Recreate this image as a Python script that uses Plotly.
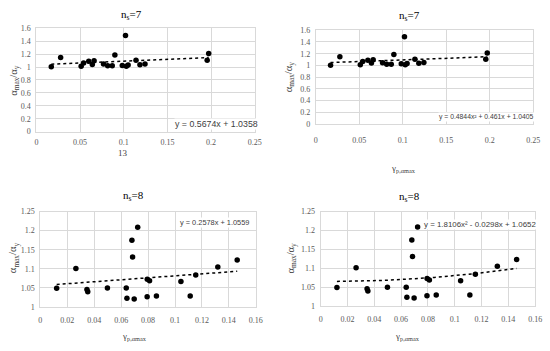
import numpy as np
import plotly.graph_objects as go

# ---------------- data ----------------
x7 = [0.0170, 0.0277, 0.0512, 0.0540, 0.0599, 0.0640, 0.0660, 0.0768, 0.0816, 0.0868,
      0.0898, 0.0983, 0.1020, 0.1029, 0.1050, 0.1140, 0.1185, 0.1243, 0.1955, 0.1972]
y7 = [1.004, 1.147, 1.012, 1.065, 1.090, 1.041, 1.097, 1.046, 1.020, 1.020,
      1.187, 1.026, 1.489, 1.012, 1.033, 1.105, 1.038, 1.049, 1.107, 1.210]

x8 = [0.0121, 0.0264, 0.0346, 0.0352, 0.0498, 0.0638, 0.0643, 0.0680, 0.0685, 0.0697,
      0.0723, 0.0794, 0.0811, 0.0793, 0.0862, 0.1044, 0.1113, 0.1154, 0.1318, 0.1462]
y8 = [1.049, 1.101, 1.046, 1.040, 1.050, 1.050, 1.023, 1.175, 1.131, 1.021,
      1.209, 1.073, 1.069, 1.027, 1.029, 1.067, 1.029, 1.084, 1.105, 1.123]

# trendline coefficients (highest power first), as printed on the chart
coef_tl = [0.5674, 1.0358]
coef_tr = [0.4844, 0.461, 1.0405]
coef_bl = [0.2578, 1.0559]
coef_br = [1.8106, -0.0298, 1.0652]

eq_tl = "y = 0.5674x + 1.0358"
eq_tr = "y = 0.4844x² + 0.461x + 1.0405"
eq_bl = "y = 0.2578x + 1.0559"
eq_br = "y = 1.8106x² - 0.0298x + 1.0652"

titles = ["n<sub>s</sub>=7", "n<sub>s</sub>=7", "n<sub>s</sub>=8", "n<sub>s</sub>=8"]
ytitle = "α<sub>max</sub>/α<sub>y</sub>"
xtitles = ["13", "γ<sub>p,αmax</sub>", "γ<sub>p,αmax</sub>", "γ<sub>p,αmax</sub>"]

xt7 = [0, 0.05, 0.1, 0.15, 0.2, 0.25]
xt7_lbl = ["0", "0.05", "0.1", "0.15", "0.2", "0.25"]
yt7 = [0, 0.2, 0.4, 0.6, 0.8, 1.0, 1.2, 1.4, 1.6]
yt7_lbl = ["0", "0.2", "0.4", "0.6", "0.8", "1", "1.2", "1.4", "1.6"]
xt8 = [0, 0.02, 0.04, 0.06, 0.08, 0.10, 0.12, 0.14, 0.16]
xt8_lbl = ["0", "0.02", "0.04", "0.06", "0.08", "0.1", "0.12", "0.14", "0.16"]
yt8 = [1.0, 1.05, 1.1, 1.15, 1.2, 1.25]
yt8_lbl = ["1", "1.05", "1.1", "1.15", "1.2", "1.25"]

# ---------------- layout helpers ----------------
W, H = 550, 351
def PX(x): return x / W
def PY(y): return 1 - y / H

SERIF = "Liberation Serif"
SANS = "Liberation Sans"
GRID = "#d9d9d9"

panels = [
    dict(x=x7, y=y7, c=coef_tl, eq=eq_tl, eqsize=8.8, box=(35, 257, 25, 131),
         xt=(xt7, xt7_lbl), yt=(yt7, yt7_lbl), xr=[0, 0.25], yr=[0, 1.6],
         eqpos=(175, 123), title=(132, 11), ytl=(12, 78), xtl=(123, 153), xstand=3),
    dict(x=x7, y=y7, c=coef_tr, eq=eq_tr, eqsize=6.8, box=(319, 540, 27, 123),
         xt=(xt7, xt7_lbl), yt=(yt7, yt7_lbl), xr=[0, 0.25], yr=[0, 1.6],
         eqpos=(443, 116), title=(414, 12), ytl=(292, 75), xtl=(408, 169), xstand=9),
    dict(x=x8, y=y8, c=coef_bl, eq=eq_bl, eqsize=7.4, box=(39, 258, 213, 311),
         xt=(xt8, xt8_lbl), yt=(yt8, yt8_lbl), xr=[0, 0.16], yr=[1, 1.25],
         eqpos=(180, 224), title=(134, 197), ytl=(12, 260), xtl=(135, 341), xstand=5),
    dict(x=x8, y=y8, c=coef_br, eq=eq_br, eqsize=7.9, box=(324, 542, 213, 310),
         xt=(xt8, xt8_lbl), yt=(yt8, yt8_lbl), xr=[0, 0.16], yr=[1, 1.25],
         eqpos=(428, 226), title=(414, 198), ytl=(294, 261), xtl=(412, 341), xstand=5),
]

fig = go.Figure()
annotations = []
for i, p in enumerate(panels, start=1):
    xa = "x" if i == 1 else f"x{i}"
    ya = "y" if i == 1 else f"y{i}"
    fig.add_trace(go.Scatter(x=p["x"], y=p["y"], mode="markers", xaxis=xa, yaxis=ya,
                             marker=dict(color="black", size=5.5), showlegend=False,
                             hoverinfo="skip"))
    xs = np.linspace(min(p["x"]), max(p["x"]), 60)
    fig.add_trace(go.Scatter(x=xs, y=np.polyval(p["c"], xs), mode="lines", xaxis=xa, yaxis=ya,
                             line=dict(color="black", width=1.5, dash="dot"), showlegend=False,
                             hoverinfo="skip"))
    x0, x1, y0, y1 = p["box"]
    axcommon = dict(showgrid=True, gridcolor=GRID, gridwidth=1, zeroline=False,
                    showline=True, linecolor=GRID, linewidth=1, mirror=True, ticks="",
                    tickfont=dict(family=SERIF, size=8, color="#595959"))
    fig.layout[("xaxis" if i == 1 else f"xaxis{i}")] = dict(
        domain=[PX(x0), PX(x1)], anchor=ya, range=p["xr"], tickmode="array",
        tickvals=p["xt"][0], ticktext=p["xt"][1], ticklabelstandoff=p["xstand"], **axcommon)
    fig.layout[("yaxis" if i == 1 else f"yaxis{i}")] = dict(
        domain=[PY(y1), PY(y0)], anchor=xa, range=p["yr"], tickmode="array",
        tickvals=p["yt"][0], ticktext=p["yt"][1], ticklabelstandoff=3, **axcommon)
    annotations.append(dict(x=PX(p["eqpos"][0]), y=PY(p["eqpos"][1]), xref="paper", yref="paper",
                            text=p["eq"], showarrow=False, xanchor="left", yanchor="middle",
                            bgcolor="white", borderpad=0,
                            font=dict(family=SANS, size=p["eqsize"], color="#404040")))
    annotations.append(dict(x=PX(p["title"][0]), y=PY(p["title"][1]), xref="paper", yref="paper",
                            text=titles[i - 1], showarrow=False, xanchor="center", yanchor="middle",
                            font=dict(family=SERIF, size=11, color="#000000")))
    annotations.append(dict(x=PX(p["ytl"][0]), y=PY(p["ytl"][1]), xref="paper", yref="paper",
                            text=ytitle, showarrow=False, xanchor="center", yanchor="middle",
                            textangle=-90, font=dict(family=SERIF, size=10.5, color="#404040")))
    annotations.append(dict(x=PX(p["xtl"][0]), y=PY(p["xtl"][1]), xref="paper", yref="paper",
                            text=xtitles[i - 1], showarrow=False, xanchor="center", yanchor="middle",
                            font=dict(family=SERIF, size=9, color="#404040")))

fig.update_layout(width=W, height=H, autosize=False, margin=dict(l=0, r=0, t=0, b=0),
                  paper_bgcolor="white", plot_bgcolor="white", annotations=annotations,
                  hovermode=False)

fig.write_html("out.html", config={"displayModeBar": False},
               post_script="document.body.style.margin='0';document.body.style.padding='0';")
